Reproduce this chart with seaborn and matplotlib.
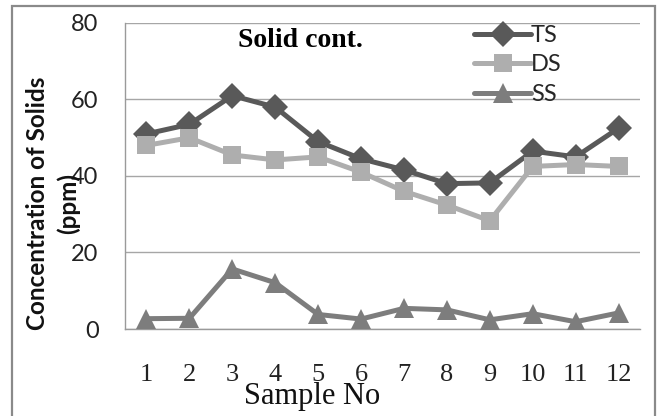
import matplotlib
matplotlib.use("Agg")
import matplotlib.pyplot as plt
import seaborn as sns
import pandas as pd
from matplotlib.patches import Rectangle

# Solid content measured per sample (ppm)
samples = list(range(1, 13))
ts = [51, 53.5, 61, 58, 49, 44.5, 41.6, 38, 38.2, 46.5, 45, 52.5]
ds = [48, 50, 45.5, 44.2, 45, 41, 36, 32.4, 28.3, 42.5, 43, 42.5]
ss = [2.7, 2.8, 15.7, 12.1, 3.8, 2.6, 5.4, 5.0, 2.4, 4.0, 1.9, 4.2]
series_names = ["TS", "DS", "SS"]
y_ticks = [0, 20, 40, 60, 80]

df = pd.DataFrame({
    "Sample No": samples * 3,
    "value": ts + ds + ss,
    "series": [name for name in series_names for _ in samples],
})

sns.set_style("white")
plt.rcParams["font.family"] = ["Lato", "DejaVu Sans"]

fig = plt.figure(figsize=(6.64, 4.16), dpi=100)
ax = fig.add_axes([125 / 664, 1 - 329 / 416, 515 / 664, 306 / 416])

colors = {"TS": "#595959", "DS": "#aeaeae", "SS": "#7d7d7d"}
markers = {"TS": "D", "DS": "s", "SS": "^"}
sizes = {"TS": 13.5, "DS": 13.5, "SS": 14}

for name in series_names:
    sub = df[df["series"] == name]
    sns.lineplot(data=sub, x="Sample No", y="value", ax=ax, color=colors[name],
                 marker=markers[name], markersize=sizes[name], markeredgewidth=0,
                 linewidth=3.6, label=name, zorder=3)

ax.set_xlim(0.5, 12.5)
ax.set_ylim(0, 80)
ax.set_yticks(y_ticks)
ax.set_xticks(samples)
ax.set_xticklabels([str(s) for s in samples], fontfamily="Liberation Serif", fontsize=19)
ax.set_yticklabels([str(v) for v in y_ticks], fontsize=17)
ax.tick_params(axis="both", length=0, colors="#222222")
ax.tick_params(axis="y", pad=19)
ax.tick_params(axis="x", pad=25)

ax.grid(axis="y", color="#a6a6a6", linewidth=1.0)
ax.grid(axis="x", visible=False)
ax.set_axisbelow(True)
for side in ("top", "right"):
    ax.spines[side].set_visible(False)
for side in ("left", "bottom"):
    ax.spines[side].set_color("#9a9a9a")
    ax.spines[side].set_linewidth(1.0)

ax.set_xlabel("Sample No", fontfamily="Liberation Serif", fontsize=22, color="#111111")
ax.xaxis.set_label_coords(0.363, -0.172)
ax.set_ylabel("Concentration of Solids\n(ppm)", fontsize=17.5, fontweight="bold",
              color="#111111", linespacing=1.36)
ax.yaxis.set_label_coords(-0.088, 0.41)

ax.text(0.34, 0.944, "Solid cont.", transform=ax.transAxes, ha="center", va="center",
        fontfamily="Liberation Serif", fontweight="bold", fontsize=20, color="#000000")

handles, labels = ax.get_legend_handles_labels()
leg = ax.legend(handles, labels, loc="upper left", bbox_to_anchor=(0.66, 1.025),
                frameon=False, fontsize=17, handlelength=2.4, handletextpad=0.0,
                labelspacing=0.36, borderaxespad=0)

fig.patches.append(Rectangle((12 / 664, -0.02), 643 / 664, 1 - 6 / 416 + 0.02,
                             transform=fig.transFigure, fill=False,
                             edgecolor="#8a8a8a", linewidth=1.6))

fig.savefig("out.png", dpi=100)
